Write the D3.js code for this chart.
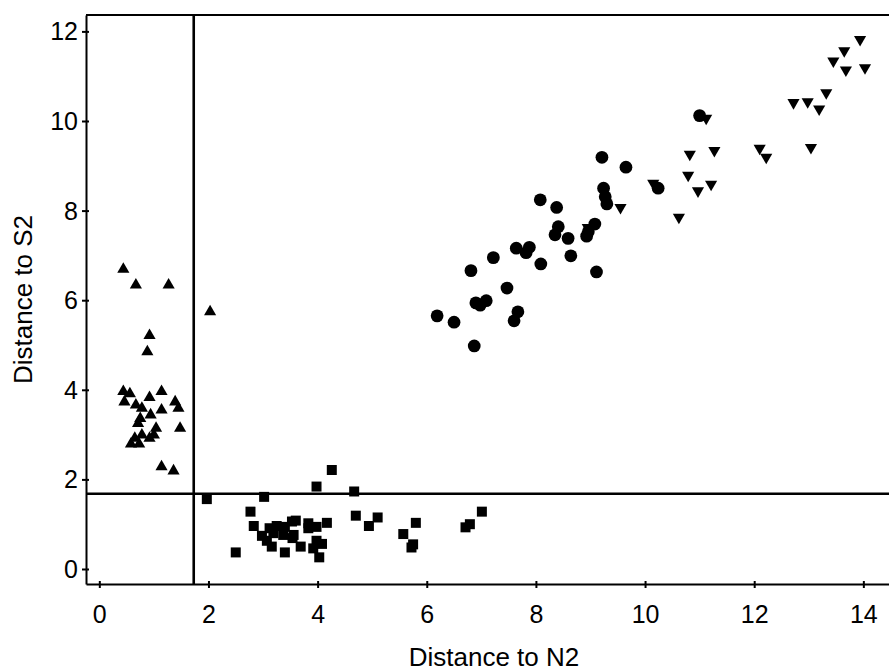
<!DOCTYPE html>
<html lang="en">
<head>
    <meta charset="UTF-8">
    <title>Distance to N2 vs Distance to S2</title>
    <script src="https://d3js.org/d3.v7.min.js"></script>
</head>
<style>
    body { margin: 0; background: #fff; }
    .axis path, .axis line { fill: none; stroke: #000; stroke-width: 2; }
    .axis text { font-family: "Liberation Sans", Arial, sans-serif; font-size: 25px; fill: #000; }
    .title { font-family: "Liberation Sans", Arial, sans-serif; font-size: 26px; fill: #000; }
</style>
<body>
    <svg width="889" height="671"></svg>
</body>
<script>
// group A: triangles (up)
var triX = [0.44, 0.67, 1.27, 2.03, 0.92, 0.88, 0.44, 0.56, 0.46, 1.14, 0.92, 0.67, 0.78, 1.39, 1.45,
            1.14, 0.94, 0.75, 0.71, 1.48, 1.04, 1.00, 0.92, 0.78, 0.65, 0.58, 0.73, 1.14, 1.36];
var triY = [6.69, 6.34, 6.34, 5.74, 5.21, 4.85, 3.96, 3.91, 3.73, 3.96, 3.83, 3.66, 3.59, 3.73, 3.59,
            3.55, 3.44, 3.36, 3.25, 3.14, 3.14, 2.99, 2.92, 2.99, 2.92, 2.79, 2.79, 2.28, 2.19];

// group B: squares
var sqX = [1.97, 3.02, 2.77, 2.50, 2.83, 3.12, 3.25, 2.98, 3.07, 3.16, 3.19, 3.37, 3.54, 3.40, 3.53,
           3.60, 3.69, 4.26, 3.98, 4.67, 4.70, 4.94, 5.10, 5.57, 5.80, 5.75, 5.72, 6.71, 6.79, 7.01,
           3.83, 3.83, 4.17, 3.98, 3.40, 3.56, 3.98, 4.08, 3.92, 4.03];
var sqY = [1.56, 1.61, 1.28, 0.37, 0.96, 0.91, 0.96, 0.74, 0.63, 0.50, 0.80, 0.76, 0.69, 0.37, 1.06,
           1.08, 0.50, 2.21, 1.84, 1.73, 1.19, 0.96, 1.15, 0.78, 1.03, 0.55, 0.48, 0.93, 1.00, 1.28,
           1.02, 0.91, 1.03, 0.94, 0.94, 0.76, 0.63, 0.56, 0.46, 0.26];

// group C: circles
var cirX = [6.19, 6.50, 6.87, 6.81, 6.90, 6.98, 7.09, 7.22, 7.47, 7.60, 7.67, 7.64, 7.82, 7.88, 8.09,
            8.08, 8.38, 8.41, 8.35, 8.59, 8.64, 8.93, 8.96, 9.08, 9.11, 9.21, 9.24, 9.27, 9.30, 9.65,
            10.24, 11.00];
var cirY = [5.65, 5.51, 4.98, 6.66, 5.94, 5.89, 5.99, 6.95, 6.27, 5.54, 5.74, 7.16, 7.06, 7.18, 6.81,
            8.24, 8.07, 7.64, 7.46, 7.38, 6.99, 7.43, 7.53, 7.70, 6.63, 9.19, 8.50, 8.31, 8.15, 8.97,
            8.50, 10.12];

// group D: triangles (down)
var dtriX = [8.95, 9.55, 10.15, 10.62, 10.82, 11.27, 10.79, 11.21, 10.97, 11.12, 12.10, 12.22, 13.04,
             12.72, 12.98, 13.19, 13.32, 13.45, 13.65, 13.94, 13.68, 14.03];
var dtriY = [7.62, 8.07, 8.61, 7.85, 9.26, 9.34, 8.79, 8.59, 8.44, 10.06, 9.39, 9.19, 9.41,
             10.41, 10.43, 10.27, 10.63, 11.34, 11.57, 11.82, 11.14, 11.19];

// cut-off lines
var cutN2 = 1.73;
var cutS2 = 1.68;

var xTicks = [0, 2, 4, 6, 8, 10, 12, 14];
var yTicks = [0, 2, 4, 6, 8, 10, 12];

var svg = d3.select("svg");

var x = d3.scaleLinear().domain([-0.244, 14.47]).range([86, 889]);
var y = d3.scaleLinear().domain([-0.335, 12.366]).range([584, 15]);

// x axis
var gx = svg.append("g")
    .attr("class", "axis")
    .attr("transform", "translate(0," + y.range()[0] + ")")
    .call(d3.axisBottom(x).tickValues(xTicks).tickFormat(d3.format("d")).tickSize(4).tickSizeOuter(0));
gx.selectAll(".tick line").attr("y1", -3).attr("y2", 4);
gx.selectAll(".tick text").attr("y", 21).attr("dy", "0.71em");

// y axis
var gy = svg.append("g")
    .attr("class", "axis")
    .attr("transform", "translate(" + x.range()[0] + ",0)")
    .call(d3.axisLeft(y).tickValues(yTicks).tickFormat(d3.format("d")).tickSize(4).tickSizeOuter(0));
gy.selectAll(".tick line").attr("x1", 3).attr("x2", -4);
gy.selectAll(".tick text").attr("x", -8).attr("dy", "0.34em");

// top and right frame
svg.append("path")
    .attr("d", "M" + x.range()[0] + "," + y.range()[1] + "H" + (x.range()[1] + 2) + "V" + y.range()[0])
    .attr("fill", "none")
    .attr("stroke", "#000")
    .attr("stroke-width", 2);

// cut-off lines
svg.append("line")
    .attr("x1", x(cutN2)).attr("x2", x(cutN2))
    .attr("y1", y.range()[0]).attr("y2", y.range()[1])
    .attr("stroke", "#000").attr("stroke-width", 2.6);
svg.append("line")
    .attr("x1", x.range()[0]).attr("x2", x.range()[1])
    .attr("y1", y(cutS2)).attr("y2", y(cutS2))
    .attr("stroke", "#000").attr("stroke-width", 2.6);

function drawGroup(xs, ys, type, size, rot) {
    var pts = xs.map(function(d, i) { return [d, ys[i]]; });
    var sym = d3.symbol().type(type).size(size);
    svg.append("g").selectAll("path")
        .data(pts)
        .enter()
        .append("path")
        .attr("d", sym)
        .attr("fill", "#000")
        .attr("transform", function(d) {
            return "translate(" + x(d[0]) + "," + y(d[1]) + ")" + (rot ? " rotate(180)" : "");
        });
}

drawGroup(triX, triY, d3.symbolTriangle, 64, false);
drawGroup(sqX, sqY, d3.symbolSquare, 100, false);
drawGroup(dtriX, dtriY, d3.symbolTriangle, 64, true);
drawGroup(cirX, cirY, d3.symbolCircle, 128, false);

// titles
svg.append("text")
    .attr("class", "title")
    .attr("x", 494)
    .attr("y", 666)
    .attr("text-anchor", "middle")
    .text("Distance to N2");

svg.append("text")
    .attr("class", "title")
    .attr("transform", "translate(32," + ((y.range()[0] + y.range()[1]) / 2) + ") rotate(-90)")
    .attr("text-anchor", "middle")
    .text("Distance to S2");
</script>
</html>
